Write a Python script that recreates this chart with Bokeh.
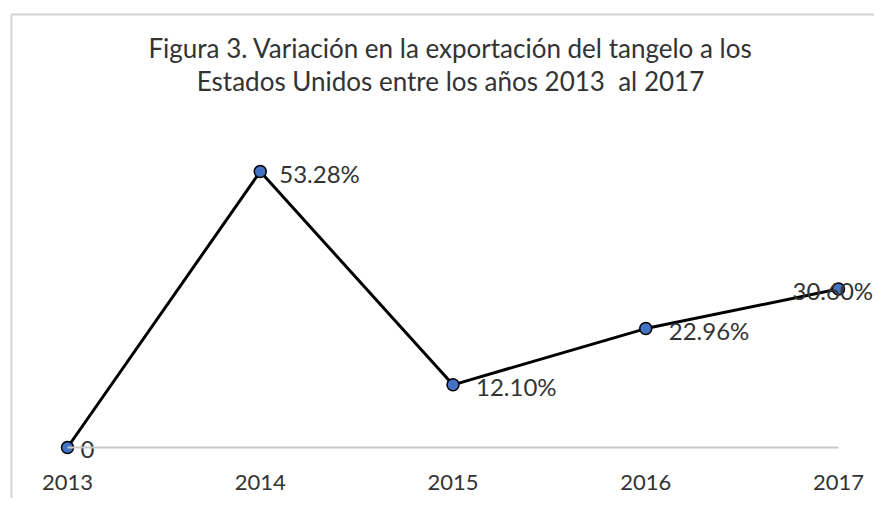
from bokeh.plotting import figure
from bokeh.models import ColumnDataSource, Range1d, FixedTicker, Label
from bokeh.core.properties import value
from bokeh.embed import file_html
from bokeh.resources import INLINE

years = [2013, 2014, 2015, 2016, 2017]
year_labels = ["2013", "2014", "2015", "2016", "2017"]
variation = [0.0, 53.28, 12.10, 22.96, 30.60]
value_labels = ["0", "53.28%", "12.10%", "22.96%", "30.60%"]
title_lines = ["Figura 3. Variación en la exportación del tangelo a los",
               "Estados Unidos entre los años 2013\u00a0 al 2017"]

# label horizontal offsets in px (style)
label_dx = [13, 19, 23, 23, -46]

W, H = 874, 498
px_per_year = 192.75
px_per_unit = 5.18
x0_canvas = 67    # canvas x of first category
y0_canvas = 447   # canvas y of value 0

x_start = years[0] - x0_canvas / px_per_year
x_end = x_start + W / px_per_year
y_end = y0_canvas / px_per_unit
y_start = y_end - H / px_per_unit

p = figure(width=W, height=H, output_backend="svg", toolbar_location=None,
           x_range=Range1d(x_start, x_end), y_range=Range1d(y_start, y_end),
           y_axis_location=None, min_border_left=0, min_border_right=0,
           min_border_top=0, min_border_bottom=0)
p.outline_line_color = None
p.xgrid.visible = False
p.ygrid.visible = False
p.background_fill_color = "white"
p.border_fill_color = "white"

def sx(c):
    return x_start + c / px_per_year
def sy(c):
    return y_end - c / px_per_unit

# chart area border (top and left edges visible; right/bottom outside the window)
bx, by = sx(11), sy(14)
p.line(x=[x_end + 1, bx, bx], y=[by, by, y_start - 1],
       line_color="#d4d4d4", line_width=2)

ax = p.xaxis[0]
ax.fixed_location = 0
ax.bounds = (years[0], years[-1])
ax.ticker = FixedTicker(ticks=years)
ax.major_label_overrides = {y: l for y, l in zip(years, year_labels)}
ax.axis_line_color = "#c8c8c8"
ax.axis_line_width = 2
ax.major_tick_line_color = None
ax.minor_tick_line_color = None
ax.major_tick_out = 0
ax.major_tick_in = 0
ax.major_label_standoff = 27
ax.major_label_text_font = "Lato"
ax.major_label_text_font_size = "22px"
ax.major_label_text_color = "#333333"

src = ColumnDataSource(dict(x=years, y=variation, lab=value_labels, dx=label_dx))
p.line("x", "y", source=src, line_color="black", line_width=3)
p.scatter("x", "y", source=src, size=12, fill_color="#4472C4", line_color="black", line_width=1.5)
p.text("x", "y", text="lab", source=src, x_offset="dx", y_offset=2,
       text_font=value("Lato"), text_font_size="24px", text_color="#333333",
       text_baseline="middle", text_align="left")

title_x = sx(450)
for i, t in enumerate(title_lines):
    p.add_layout(Label(x=title_x, y=sy(47 + 33 * i), text=t, text_align="center",
                       text_baseline="middle", text_font="Lato", text_font_size="26px",
                       text_color="#333333"))

open("out.html", "w").write(file_html(p, INLINE))
